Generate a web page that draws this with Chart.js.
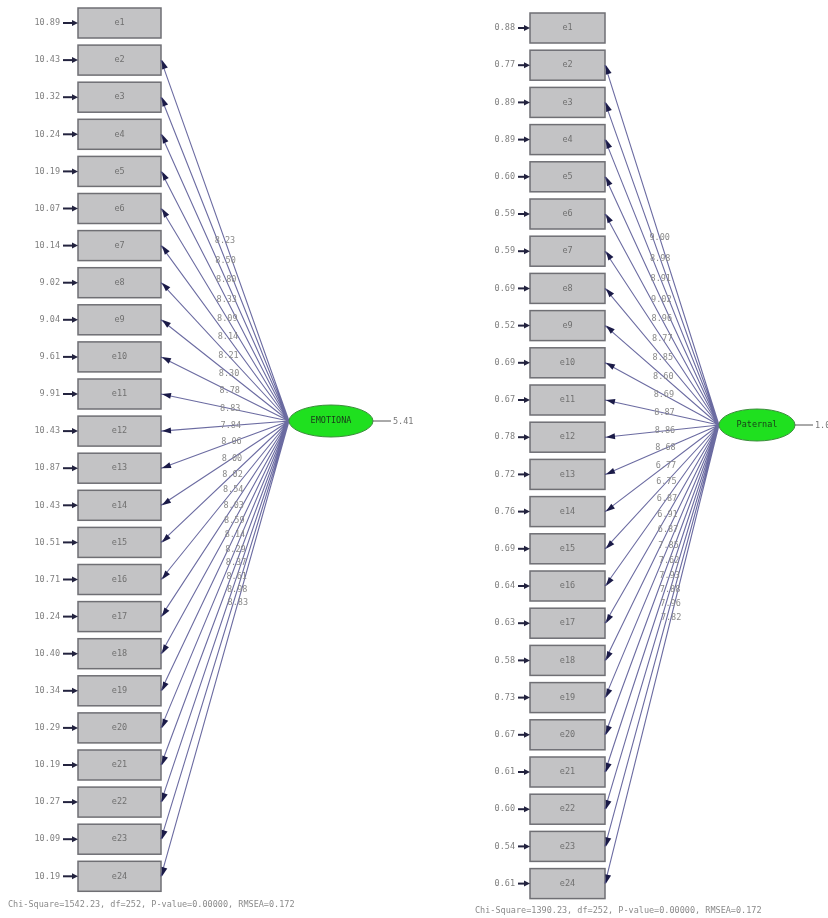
<!DOCTYPE html>
<html>
<head>
<meta charset="utf-8">
<script src="https://cdn.jsdelivr.net/npm/chart.js@4.4.1/dist/chart.umd.min.js"></script>
<style>
  html, body { margin: 0; padding: 0; background: #fff; }
  #wrap { width: 828px; height: 918px; }
</style>
</head>
<body>
<div id="wrap"><canvas id="diagram" width="828" height="918"></canvas></div>
<script>
// observed indicators (same for both models)
const indicators = ['e1', 'e2', 'e3', 'e4', 'e5', 'e6', 'e7', 'e8', 'e9', 'e10', 'e11', 'e12',
    'e13', 'e14', 'e15', 'e16', 'e17', 'e18', 'e19', 'e20', 'e21', 'e22', 'e23', 'e24'];

// left model: error variances (e1..e24) and t-values of the loadings (e2..e24)
const leftErrors = ['10.89', '10.43', '10.32', '10.24', '10.19', '10.07', '10.14', '9.02', '9.04', '9.61',
    '9.91', '10.43', '10.87', '10.43', '10.51', '10.71', '10.24', '10.40', '10.34', '10.29',
    '10.19', '10.27', '10.09', '10.19'];
const leftLoadings = ['8.23', '8.50', '8.80', '8.33', '8.09', '8.14', '8.21', '8.30', '8.78', '8.83',
    '7.84', '8.06', '8.00', '8.02', '8.54', '8.03', '8.59', '8.14', '8.29', '8.37',
    '8.61', '8.98', '8.83'];
const leftLatent = 'EMOTIONA';
const leftLatentVar = '5.41';
const leftFit = 'Chi-Square=1542.23, df=252, P-value=0.00000, RMSEA=0.172';

// right model
const rightErrors = ['0.88', '0.77', '0.89', '0.89', '0.60', '0.59', '0.59', '0.69', '0.52', '0.69',
    '0.67', '0.78', '0.72', '0.76', '0.69', '0.64', '0.63', '0.58', '0.73', '0.67',
    '0.61', '0.60', '0.54', '0.61'];
const rightLoadings = ['9.00', '8.98', '8.91', '9.02', '8.96', '8.77', '8.85', '8.60', '8.69', '8.87',
    '8.86', '8.68', '6.77', '6.75', '6.87', '6.91', '6.87', '7.85', '7.62', '7.93',
    '7.88', '7.96', '7.82'];
const rightLatent = 'Paternal';
const rightLatentVar = '1.00';
const rightFit = 'Chi-Square=1390.23, df=252, P-value=0.00000, RMSEA=0.172';

// layout of the two panels
const panels = [
    {
        errors: leftErrors, loadings: leftLoadings, latent: leftLatent, latentVar: leftLatentVar, fit: leftFit,
        boxLeft: 78, boxRight: 161, firstY: 23, step: 37.1, boxH: 30,
        ell: { cx: 331, cy: 421, rx: 42, ry: 16 },
        errText: 60, errArrow: 63, t0: 0.5, t1: 0.6, fitX: 8, fitY: 905
    },
    {
        errors: rightErrors, loadings: rightLoadings, latent: rightLatent, latentVar: rightLatentVar, fit: rightFit,
        boxLeft: 530, boxRight: 605, firstY: 28, step: 37.2, boxH: 30,
        ell: { cx: 757, cy: 425, rx: 38, ry: 16 },
        errText: 515, errArrow: 518, t0: 0.48, t1: 0.58, fitX: 475, fitY: 911
    }
];

const FONT = '8.5px "DejaVu Sans Mono"';

const boxY = (p, i) => p.firstY + i * p.step;

// one dataset of connecting paths per panel, gaps between paths
const pathData = p => {
    const pts = [];
    p.loadings.forEach((v, k) => {
        const i = k + 1;
        pts.push({ x: p.boxRight, y: boxY(p, i) });
        pts.push({ x: p.ell.cx - p.ell.rx, y: p.ell.cy });
        pts.push({ x: p.ell.cx - p.ell.rx, y: null });
    });
    return pts;
};

const arrowHead = (ctx, fx, fy, tx, ty, len, half) => {
    const a = Math.atan2(ty - fy, tx - fx);
    ctx.beginPath();
    ctx.moveTo(tx, ty);
    ctx.lineTo(tx - len * Math.cos(a) + half * Math.sin(a), ty - len * Math.sin(a) - half * Math.cos(a));
    ctx.lineTo(tx - len * Math.cos(a) - half * Math.sin(a), ty - len * Math.sin(a) + half * Math.cos(a));
    ctx.closePath();
    ctx.fill();
};

const diagramPlugin = {
    id: 'diagram',
    beforeDatasetsDraw(chart) {
        const ctx = chart.ctx;
        const sx = chart.scales.x, sy = chart.scales.y;
        ctx.save();
        panels.forEach(p => {
            const x0 = sx.getPixelForValue(p.boxLeft), x1 = sx.getPixelForValue(p.boxRight);
            indicators.forEach((name, i) => {
                const yc = sy.getPixelForValue(boxY(p, i));
                ctx.fillStyle = '#c3c3c5';
                ctx.strokeStyle = '#6f6f74';
                ctx.lineWidth = 1.5;
                ctx.fillRect(x0, yc - p.boxH / 2, x1 - x0, p.boxH);
                ctx.strokeRect(x0, yc - p.boxH / 2, x1 - x0, p.boxH);
                ctx.fillStyle = '#707070';
                ctx.font = FONT;
                ctx.textAlign = 'center';
                ctx.textBaseline = 'middle';
                ctx.fillText(name, (x0 + x1) / 2, yc);
                // error variance + arrow
                const ex = sx.getPixelForValue(p.errArrow);
                ctx.strokeStyle = '#23233f';
                ctx.lineWidth = 2;
                ctx.beginPath();
                ctx.moveTo(ex, yc);
                ctx.lineTo(x0 - 4, yc);
                ctx.stroke();
                ctx.fillStyle = '#23233f';
                arrowHead(ctx, ex, yc, x0, yc, 6, 3);
                ctx.fillStyle = '#808080';
                ctx.textAlign = 'right';
                ctx.fillText(p.errors[i], sx.getPixelForValue(p.errText), yc);
            });
        });
        ctx.restore();
    },
    afterDatasetsDraw(chart) {
        const ctx = chart.ctx;
        const sx = chart.scales.x, sy = chart.scales.y;
        ctx.save();
        panels.forEach(p => {
            const ex = sx.getPixelForValue(p.ell.cx - p.ell.rx), ey = sy.getPixelForValue(p.ell.cy);
            const bx = sx.getPixelForValue(p.boxRight);
            // arrowheads at the indicators
            ctx.fillStyle = '#1b1b48';
            p.loadings.forEach((v, k) => {
                const yc = sy.getPixelForValue(boxY(p, k + 1));
                arrowHead(ctx, ex, ey, bx + 1, yc, 9, 3);
            });
            // loading labels along the paths
            ctx.font = FONT;
            ctx.textAlign = 'center';
            ctx.textBaseline = 'middle';
            ctx.fillStyle = '#8a8a8a';
            const n = p.loadings.length;
            p.loadings.forEach((v, k) => {
                const yc = sy.getPixelForValue(boxY(p, k + 1));
                const t = p.t0 + (p.t1 - p.t0) * k / (n - 1);
                ctx.fillText(v, bx + t * (ex - bx), yc + t * (ey - yc));
            });
            // latent ellipse
            const cx = sx.getPixelForValue(p.ell.cx);
            ctx.beginPath();
            ctx.ellipse(cx, ey, p.ell.rx, p.ell.ry, 0, 0, Math.PI * 2);
            ctx.fillStyle = '#1fe01f';
            ctx.fill();
            ctx.strokeStyle = '#3c8c3c';
            ctx.lineWidth = 1;
            ctx.stroke();
            ctx.fillStyle = '#1a3a1a';
            ctx.fillText(p.latent, cx, ey);
            // latent variance
            const rx = cx + p.ell.rx;
            ctx.strokeStyle = '#555';
            ctx.beginPath();
            ctx.moveTo(rx, ey);
            ctx.lineTo(rx + 18, ey);
            ctx.stroke();
            ctx.fillStyle = '#777';
            ctx.textAlign = 'left';
            ctx.fillText(p.latentVar, rx + 20, ey + 1);
            // fit statistics
            ctx.fillStyle = '#8a8a8a';
            ctx.fillText(p.fit, sx.getPixelForValue(p.fitX), sy.getPixelForValue(p.fitY));
        });
        ctx.restore();
    }
};

new Chart(document.getElementById('diagram'), {
    type: 'scatter',
    data: {
        datasets: panels.map(p => ({
            data: pathData(p),
            showLine: true,
            spanGaps: false,
            borderColor: 'rgba(50, 50, 125, 0.72)',
            borderWidth: 1.1,
            pointRadius: 0,
            fill: false,
            tension: 0
        }))
    },
    options: {
        responsive: false,
        animation: false,
        events: [],
        layout: { padding: 0 },
        plugins: {
            legend: { display: false },
            tooltip: { enabled: false },
            title: { display: false }
        },
        scales: {
            x: { type: 'linear', min: 0, max: 828, display: false },
            y: { type: 'linear', min: 0, max: 918, reverse: true, display: false }
        }
    },
    plugins: [diagramPlugin]
});
</script>
</body>
</html>
